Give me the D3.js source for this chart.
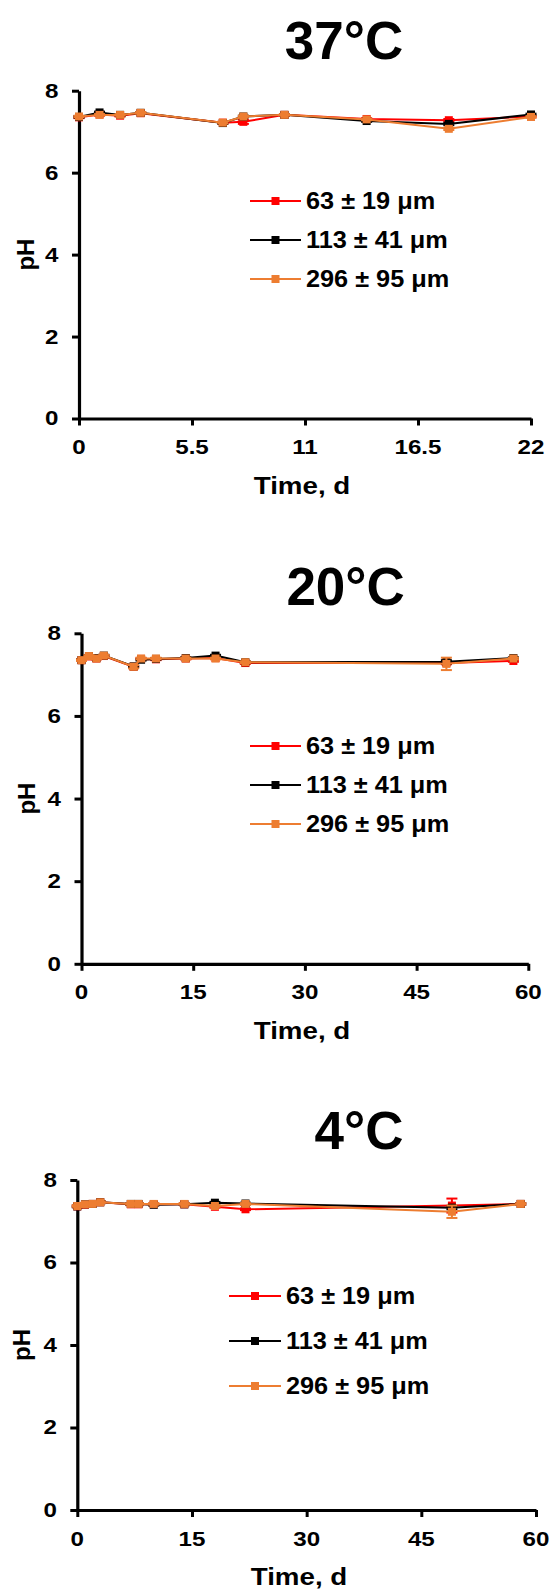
<!DOCTYPE html>
<html>
<head>
<meta charset="utf-8">
<script src="https://cdn.jsdelivr.net/npm/d3@7"></script>
<style>
  html, body { margin: 0; padding: 0; background: #fff; }
  svg { display: block; }
</style>
</head>
<body>
<div id="chart"></div>
<script>
// ---- data -------------------------------------------------------------
const seriesLabels = ["63 ± 19 μm", "113 ± 41 μm", "296 ± 95 μm"];
const seriesColors = ["#FF0000", "#000000", "#ED7D31"];

const yTicks = [0, 2, 4, 6, 8];
const xTicks37 = [0, 5.5, 11, 16.5, 22];
const xTicks20 = [0, 15, 30, 45, 60];
const xTicks4 = [0, 15, 30, 45, 60];

// 37 °C
const days37 = [0, 1, 2, 3, 7, 8, 10, 14, 18, 22];
const ph37_63 = [7.35, 7.42, 7.39, 7.45, 7.22, 7.24, 7.41, 7.31, 7.28, 7.37];
const sd37_63 = [0.02, 0.03, 0.02, 0.02, 0.02, 0.05, 0.02, 0.02, 0.03, 0.02];
const ph37_113 = [7.36, 7.47, 7.41, 7.46, 7.21, 7.37, 7.41, 7.26, 7.19, 7.42];
const sd37_113 = [0.02, 0.02, 0.02, 0.02, 0.02, 0.02, 0.02, 0.02, 0.03, 0.02];
const ph37_296 = [7.37, 7.41, 7.41, 7.46, 7.22, 7.37, 7.41, 7.30, 7.07, 7.36];
const sd37_296 = [0.02, 0.02, 0.02, 0.02, 0.02, 0.02, 0.02, 0.02, 0.03, 0.02];

// 20 °C
const days20 = [0, 1, 2, 3, 7, 8, 10, 14, 18, 22, 49, 58];
const ph20_63 = [7.35, 7.44, 7.39, 7.45, 7.19, 7.38, 7.37, 7.39, 7.40, 7.28, 7.28, 7.33];
const sd20_63 = [0.02, 0.02, 0.02, 0.02, 0.02, 0.02, 0.02, 0.02, 0.02, 0.02, 0.03, 0.02];
const ph20_113 = [7.35, 7.45, 7.40, 7.46, 7.20, 7.36, 7.38, 7.40, 7.46, 7.30, 7.31, 7.40];
const sd20_113 = [0.02, 0.02, 0.02, 0.02, 0.02, 0.02, 0.02, 0.02, 0.02, 0.02, 0.04, 0.02];
const ph20_296 = [7.35, 7.45, 7.39, 7.46, 7.19, 7.39, 7.39, 7.39, 7.39, 7.30, 7.26, 7.39];
const sd20_296 = [0.02, 0.02, 0.02, 0.02, 0.04, 0.02, 0.02, 0.02, 0.02, 0.02, 0.15, 0.02];

// 4 °C
const days4 = [0, 1, 2, 3, 7, 8, 10, 14, 18, 22, 49, 58];
const ph4_63 = [7.36, 7.40, 7.42, 7.46, 7.41, 7.41, 7.41, 7.41, 7.35, 7.29, 7.38, 7.42];
const sd4_63 = [0.02, 0.02, 0.02, 0.02, 0.02, 0.02, 0.02, 0.02, 0.02, 0.02, 0.17, 0.02];
const ph4_113 = [7.36, 7.41, 7.42, 7.46, 7.42, 7.42, 7.40, 7.41, 7.45, 7.43, 7.33, 7.42];
const sd4_113 = [0.02, 0.02, 0.02, 0.02, 0.02, 0.02, 0.02, 0.02, 0.02, 0.02, 0.04, 0.02];
const ph4_296 = [7.37, 7.41, 7.42, 7.46, 7.42, 7.42, 7.42, 7.42, 7.37, 7.42, 7.23, 7.42];
const sd4_296 = [0.02, 0.02, 0.02, 0.02, 0.02, 0.02, 0.02, 0.02, 0.02, 0.02, 0.15, 0.02];

// ---- layout -----------------------------------------------------------
const W = 555, H = 1593;
const FONT = "'Liberation Sans', Arial, Helvetica, sans-serif";

const panels = [
  {
    title: "37°C", days: days37, xTicks: xTicks37,
    values: [ph37_63, ph37_113, ph37_296], errors: [sd37_63, sd37_113, sd37_296],
    frame: { left: 79, right: 531, top: 90.7, bottom: 418.5 },
    titlePos: [344, 59], xTitleX: 302, yTitleX: 27,
    legend: { x1: 250, x2: 301, tx: 306, y0: 201, dy: 39 }
  },
  {
    title: "20°C", days: days20, xTicks: xTicks20,
    values: [ph20_63, ph20_113, ph20_296], errors: [sd20_63, sd20_113, sd20_296],
    frame: { left: 81.5, right: 528.3, top: 633.3, bottom: 963.8 },
    titlePos: [345.6, 604.5], xTitleX: 302, yTitleX: 28,
    legend: { x1: 250, x2: 301, tx: 306, y0: 746, dy: 39 }
  },
  {
    title: "4°C", days: days4, xTicks: xTicks4,
    values: [ph4_63, ph4_113, ph4_296], errors: [sd4_63, sd4_113, sd4_296],
    frame: { left: 77.3, right: 536, top: 1180, bottom: 1510 },
    titlePos: [359, 1148.5], xTitleX: 299, yTitleX: 23.5,
    legend: { x1: 229, x2: 281, tx: 286, y0: 1296, dy: 45 }
  }
];

const svg = d3.select("#chart").append("svg")
  .attr("width", W).attr("height", H)
  .attr("viewBox", `0 0 ${W} ${H}`);

svg.append("rect").attr("width", W).attr("height", H).attr("fill", "#fff");

// text helper: bold label, optionally stretched horizontally / rotated
function label(parent, x, y, str, opts) {
  const o = Object.assign({ size: 20, anchor: "middle", sx: 1, rotate: 0, baseline: "auto" }, opts);
  const g = parent.append("g")
    .attr("transform", `translate(${x},${y}) rotate(${o.rotate}) scale(${o.sx},1)`);
  g.append("text")
    .attr("text-anchor", o.anchor)
    .attr("dominant-baseline", o.baseline)
    .attr("font-family", FONT)
    .attr("font-weight", "bold")
    .attr("font-size", o.size)
    .attr("fill", "#000")
    .text(str);
  return g;
}

const MARK = 8;

panels.forEach(p => {
  const f = p.frame;
  const xMax = p.xTicks[p.xTicks.length - 1];
  const x = d3.scaleLinear().domain([0, xMax]).range([f.left, f.right]);
  const y = d3.scaleLinear().domain([0, 8]).range([f.bottom, f.top]);

  const g = svg.append("g");

  // title
  label(g, p.titlePos[0], p.titlePos[1], p.title, { size: 53 });

  // axes (lines and ticks from d3-axis, labels set below)
  const yAxis = d3.axisLeft(y).tickValues(yTicks).tickSize(7).tickSizeOuter(0).tickFormat("");
  const xAxis = d3.axisBottom(x).tickValues(p.xTicks).tickSize(7).tickSizeOuter(0).tickFormat("");

  const gx = g.append("g").attr("transform", `translate(0,${f.bottom})`).call(xAxis);
  const gy = g.append("g").attr("transform", `translate(${f.left},0)`).call(yAxis);
  [gx, gy].forEach(a => {
    a.select(".domain").attr("stroke", "#000").attr("stroke-width", 3.2);
    a.selectAll(".tick line").attr("stroke", "#000").attr("stroke-width", 3);
  });

  yTicks.forEach(t => {
    label(g, f.left - 20.5, y(t), String(t), { size: 21, anchor: "end", sx: 1.15, baseline: "central" });
  });
  p.xTicks.forEach(t => {
    label(g, x(t), f.bottom + 35.5, String(t), { size: 21, anchor: "middle", sx: 1.15 });
  });

  // axis titles
  label(g, p.xTitleX, f.bottom + 75, "Time, d", { size: 23.5, sx: 1.18 });
  label(g, p.yTitleX + 6.5, (f.top + f.bottom) / 2, "pH", { size: 24, rotate: -90 });

  // series: error bars, line, markers
  const line = d3.line().x(d => x(d[0])).y(d => y(d[1]));
  p.values.forEach((vals, si) => {
    const col = seriesColors[si];
    const pts = p.days.map((d, i) => [d, vals[i], p.errors[si][i]]);
    const sg = g.append("g");

    const eb = sg.append("g").attr("stroke", col).attr("stroke-width", 2);
    pts.forEach(d => {
      const cx = x(d[0]);
      const yt = y(d[1] + d[2]), yb = y(d[1] - d[2]);
      eb.append("line").attr("x1", cx).attr("x2", cx).attr("y1", yt).attr("y2", yb);
      eb.append("line").attr("x1", cx - 5.5).attr("x2", cx + 5.5).attr("y1", yt).attr("y2", yt);
      eb.append("line").attr("x1", cx - 5.5).attr("x2", cx + 5.5).attr("y1", yb).attr("y2", yb);
    });

    sg.append("path").datum(pts)
      .attr("fill", "none").attr("stroke", col).attr("stroke-width", 2)
      .attr("d", line);

    sg.selectAll("rect.m").data(pts).enter().append("rect")
      .attr("class", "m")
      .attr("x", d => x(d[0]) - MARK / 2)
      .attr("y", d => y(d[1]) - MARK / 2)
      .attr("width", MARK).attr("height", MARK)
      .attr("fill", col);
  });

  // legend
  const L = p.legend;
  seriesLabels.forEach((name, si) => {
    const ly = L.y0 + si * L.dy;
    const col = seriesColors[si];
    g.append("line").attr("x1", L.x1).attr("x2", L.x2).attr("y1", ly).attr("y2", ly)
      .attr("stroke", col).attr("stroke-width", 2);
    g.append("rect")
      .attr("x", (L.x1 + L.x2) / 2 - MARK / 2).attr("y", ly - MARK / 2)
      .attr("width", MARK).attr("height", MARK).attr("fill", col);
    label(g, L.tx, ly, name, { size: 23, anchor: "start", sx: 1.1, baseline: "central" });
  });
});
</script>
</body>
</html>
